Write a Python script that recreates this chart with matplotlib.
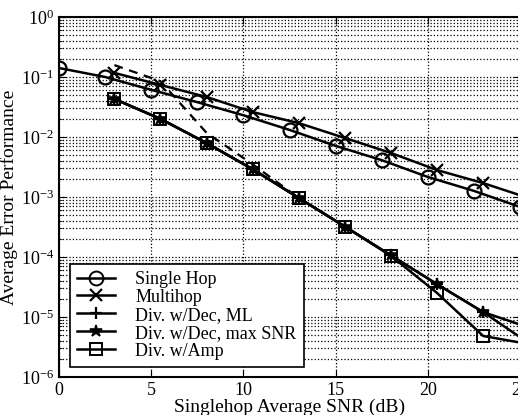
import matplotlib
matplotlib.use("Agg")
import matplotlib.pyplot as plt
from matplotlib.lines import Line2D

plt.rcParams["font.family"] = ["Liberation Serif", "DejaVu Serif"]
plt.rcParams["mathtext.fontset"] = "stix"

# Values (x in dB, y is average error performance)
snr_single = [0, 2.5, 5, 7.5, 10, 12.5, 15, 17.5, 20, 22.5, 25]
single_hop = [0.141, 0.1, 0.061, 0.038, 0.023, 0.0131, 0.0071, 0.0041, 0.00215, 0.00126, 0.00068]

snr_relay = [3, 5.5, 8, 10.5, 13, 15.5, 18, 20.5, 23, 25.5]
multihop = [0.117, 0.0736, 0.0464, 0.026, 0.017, 0.0096, 0.0054, 0.0028, 0.0017, 0.00095]
div_dec_ml = [0.043, 0.02, 0.0079, 0.0029, 0.00096, 0.00032, 0.000106, 3.5e-5, 1.2e-5, 3.6e-6]
div_dec_max = [0.043, 0.02, 0.0079, 0.0029, 0.00096, 0.00032, 0.000106, 3.5e-5, 1.2e-5, 6.6e-6]
div_amp = [0.043, 0.02, 0.0079, 0.0029, 0.00096, 0.00032, 0.000104, 2.5e-5, 4.8e-6, 3.5e-6]

# dashed curve at low SNR (no legend entry)
snr_dashed = [3, 5.5, 8, 10.5, 13]
dashed_curve = [0.158, 0.085, 0.0117, 0.0035, 0.00096]

xticks = [0, 5, 10, 15, 20, 25]

fig = plt.figure(figsize=(5.18, 4.15), dpi=100)
ax = fig.add_axes([0.114, 0.092, 0.89, 0.867])

lw = 1.8
ax.plot(snr_dashed, dashed_curve, color="black", lw=1.6, ls=(0, (4, 3)))
ax.plot(snr_single, single_hop, color="black", lw=lw, marker="o", ms=10,
        mfc="none", mew=1.6, label="Single Hop")
ax.plot(snr_relay, multihop, color="black", lw=lw, marker="x", ms=8,
        mew=1.6, label="Multihop")
ax.plot(snr_relay, div_dec_ml, color="black", lw=lw, marker="+", ms=9,
        mew=1.6, label="Div. w/Dec, ML")
ax.plot(snr_relay, div_dec_max, color="black", lw=lw, marker="*", ms=9,
        mew=1.2, label="Div. w/Dec, max SNR")
ax.plot(snr_relay, div_amp, color="black", lw=lw, marker="s", ms=8,
        mfc="none", mew=1.4, label="Div. w/Amp")

ax.set_yscale("log")
ax.set_xlim(0, 25)
ax.set_ylim(1e-6, 1)
ax.set_xticks(xticks)
ax.set_xticklabels([str(t) for t in xticks])

ax.grid(True, which="major", axis="x", ls=":", color="black", lw=0.9)
ax.grid(True, which="both", axis="y", ls=":", color="black", lw=0.9)
ax.tick_params(which="both", direction="in", labelsize=13, top=True, right=True)
ax.tick_params(which="major", length=5)
for s in ax.spines.values():
    s.set_linewidth(1.5)

ax.set_xlabel("Singlehop Average SNR (dB)", fontsize=14, labelpad=0)
ax.set_ylabel("Average Error Performance", fontsize=14, labelpad=2)

handles = [
    Line2D([], [], color="black", lw=lw, marker="o", ms=10, mfc="none", mew=1.4),
    Line2D([], [], color="black", lw=lw, marker="x", ms=8, mew=1.6),
    Line2D([], [], color="black", lw=lw, marker="+", ms=9, mew=1.6),
    Line2D([], [], color="black", lw=lw, marker="*", ms=9, mew=1.2),
    Line2D([], [], color="black", lw=lw, marker="s", ms=8, mfc="none", mew=1.4),
]
labels = ["Single Hop", "Multihop", "Div. w/Dec, ML", "Div. w/Dec, max SNR", "Div. w/Amp"]
leg = ax.legend(handles, labels, loc="lower left", bbox_to_anchor=(0.024, 0.028),
                borderaxespad=0, fontsize=13, handlelength=2.1, handletextpad=1.1,
                labelspacing=0.05, fancybox=False, framealpha=1, edgecolor="black",
                borderpad=0.4)
leg.get_frame().set_linewidth(1.2)

fig.savefig("out.png", dpi=100)
